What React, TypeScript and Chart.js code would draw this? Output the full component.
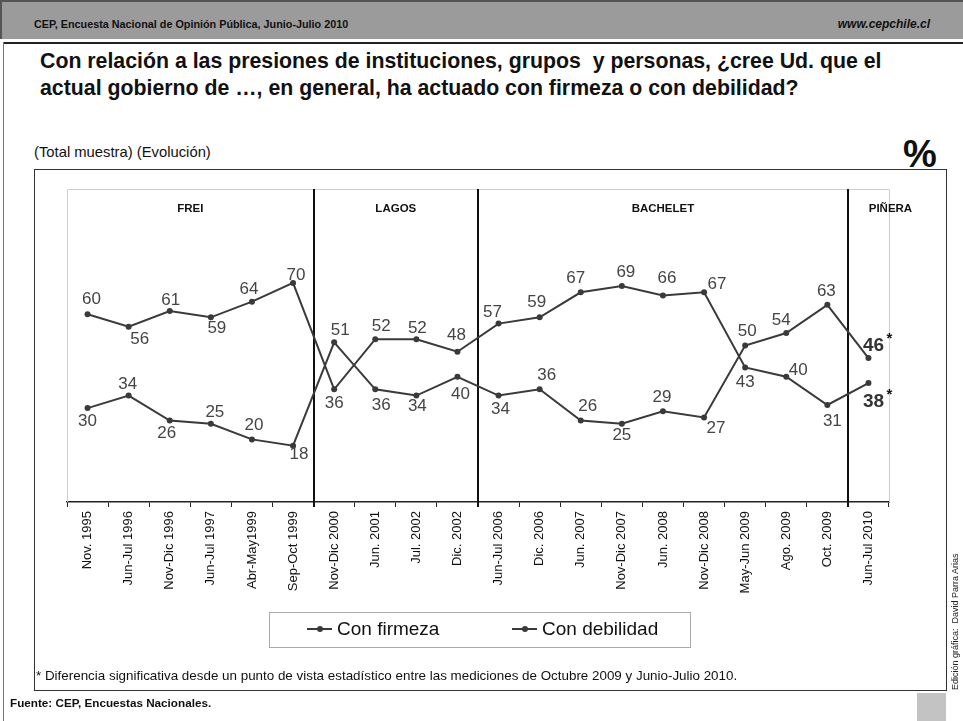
import React, { useEffect, useRef } from "react";
import { Chart, registerables } from "chart.js";

Chart.register(...registerables);

const categories = [
  "Nov. 1995", "Jun-Jul 1996", "Nov-Dic 1996", "Jun-Jul 1997", "Abr-May1999", "Sep-Oct 1999",
  "Nov-Dic 2000", "Jun. 2001", "Jul. 2002", "Dic. 2002",
  "Jun-Jul 2006", "Dic. 2006", "Jun. 2007", "Nov-Dic 2007", "Jun. 2008", "Nov-Dic 2008",
  "May-Jun 2009", "Ago. 2009", "Oct. 2009", "Jun-Jul 2010",
];
const conFirmeza = [30, 34, 26, 25, 20, 18, 51, 36, 34, 40, 34, 36, 26, 25, 29, 27, 50, 54, 63, 46];
const conDebilidad = [60, 56, 61, 59, 64, 70, 36, 52, 52, 48, 57, 59, 67, 69, 66, 67, 43, 40, 31, 38];
const significant = [false, false, false, false, false, false, false, false, false, false, false, false, false, false, false, false, false, false, false, true];
const periodNames = ["FREI", "LAGOS", "BACHELET", "PIÑERA"];
const periodStart = [0, 6, 10, 19];
const seriesNames = ["Con firmeza", "Con debilidad"];

// label placement (style only): [dx, dy] relative to each point
const firmezaLabelPos = [
  [0, 13], [-1, -11], [-3, 13], [4, -11], [2, -14], [6, 9], [6, -12], [6, 16], [1, 11], [3, 18],
  [2, 14], [7, -14], [7, -14], [0, 12], [-1, -14], [12, 11], [2, -14], [-5, -13], [-1, -13], [5, -12],
];
const debilidadLabelPos = [
  [4, -15], [11, 13], [1, -11], [6, 11], [-3, -12], [3, -8], [0, 14], [6, -13], [1, -11], [-1, -16],
  [-6, -11], [-3, -15], [-5, -14], [4, -14], [4, -17], [13, -8], [0, 15], [12, -6], [5, 16], [5, 19],
];
const periodLabelShift = [0, 0, 0, 22];

const FONT = "'Liberation Sans', Arial, Helvetica, sans-serif";
const LINE = "#3a3a3a";

const framePlugin = {
  id: "frame",
  beforeDatasetsDraw(chart: any) {
    const { ctx, chartArea } = chart;
    const x = chart.scales.x;
    const { left, right, top, bottom } = chartArea;
    ctx.save();
    ctx.strokeStyle = "#cfcfcf";
    ctx.lineWidth = 1;
    ctx.beginPath();
    ctx.moveTo(Math.round(left) + 0.5, bottom);
    ctx.lineTo(Math.round(left) + 0.5, Math.round(top) + 0.5);
    ctx.lineTo(Math.round(right) + 0.5, Math.round(top) + 0.5);
    ctx.lineTo(Math.round(right) + 0.5, bottom);
    ctx.stroke();
    const boundary = (i: number) => {
      if (i <= 0) return left;
      if (i >= categories.length) return right;
      return (x.getPixelForValue(i - 1) + x.getPixelForValue(i)) / 2;
    };
    ctx.strokeStyle = "#111";
    ctx.lineWidth = 2;
    for (let p = 1; p < periodStart.length; p++) {
      const bx = Math.round(boundary(periodStart[p]));
      ctx.beginPath();
      ctx.moveTo(bx, top);
      ctx.lineTo(bx, bottom + 5);
      ctx.stroke();
    }
    ctx.fillStyle = "#111";
    ctx.font = `bold 11.5px ${FONT}`;
    ctx.textAlign = "center";
    ctx.textBaseline = "middle";
    for (let p = 0; p < periodNames.length; p++) {
      const s = boundary(periodStart[p]);
      const e = boundary(p + 1 < periodStart.length ? periodStart[p + 1] : categories.length);
      ctx.fillText(periodNames[p], (s + e) / 2 + periodLabelShift[p], top + 20);
    }
    ctx.restore();
  },
};

const labelsPlugin = {
  id: "valueLabels",
  afterDatasetsDraw(chart: any) {
    const { ctx } = chart;
    const positions = [firmezaLabelPos, debilidadLabelPos];
    ctx.save();
    ctx.textAlign = "center";
    ctx.textBaseline = "middle";
    chart.data.datasets.forEach((ds: any, di: number) => {
      const meta = chart.getDatasetMeta(di);
      meta.data.forEach((pt: any, i: number) => {
        const [dx, dy] = positions[di][i];
        const tx = pt.x + dx;
        const ty = pt.y + dy;
        if (significant[i]) {
          ctx.fillStyle = "#333";
          ctx.font = `bold 19px ${FONT}`;
          ctx.fillText(String(ds.data[i]), tx, ty);
          ctx.font = `bold 15px ${FONT}`;
          ctx.fillStyle = "#111";
          ctx.fillText("*", tx + 16, ty - 7);
        } else {
          ctx.fillStyle = "#454545";
          ctx.font = `17px ${FONT}`;
          ctx.fillText(String(ds.data[i]), tx, ty);
        }
      });
    });
    ctx.restore();
  },
};

function LegendIcon() {
  return (
    <span style={{ position: "relative", display: "inline-block", width: 25, height: 10, marginRight: 5 }}>
      <span style={{ position: "absolute", left: 0, top: 4, width: 25, height: 2, background: LINE }} />
      <span style={{ position: "absolute", left: 10, top: 2, width: 6, height: 6, borderRadius: 3, background: LINE }} />
    </span>
  );
}

export default function App() {
  const canvasRef = useRef<HTMLCanvasElement | null>(null);

  useEffect(() => {
    const canvas = canvasRef.current;
    if (!canvas) return;
    const mk = (label: string, data: number[]) => ({
      label,
      data,
      borderColor: LINE,
      backgroundColor: LINE,
      borderWidth: 2,
      pointRadius: 3,
      pointBorderWidth: 0,
      pointBackgroundColor: LINE,
      tension: 0,
    });
    const chart = new Chart(canvas, {
      type: "line",
      data: {
        labels: categories,
        datasets: [mk(seriesNames[0], conFirmeza), mk(seriesNames[1], conDebilidad)],
      },
      options: {
        responsive: false,
        animation: false,
        devicePixelRatio: 1,
        layout: { padding: { left: 67, right: 963 - 889, top: 189, bottom: 0 } },
        plugins: { legend: { display: false }, tooltip: { enabled: false } },
        scales: {
          x: {
            offset: true,
            grid: { offset: true, drawOnChartArea: false, drawTicks: true, tickLength: 5, color: "#222", lineWidth: 1 },
            border: { color: "#222", width: 1.5 },
            ticks: {
              autoSkip: false,
              maxRotation: 90,
              minRotation: 90,
              padding: 4,
              color: "#111",
              font: { family: FONT, size: 13 },
            },
            afterFit: (s: any) => {
              s.height = 721 - 502;
            },
          },
          y: { display: false, min: 0, max: 100 },
        },
      } as any,
      plugins: [framePlugin, labelsPlugin],
    });
    return () => chart.destroy();
  }, []);

  const abs = (o: React.CSSProperties): React.CSSProperties => ({ position: "absolute", ...o });

  return (
    <div style={{ position: "fixed", left: 0, top: 0, width: 963, height: 721, background: "#fff", overflow: "hidden", fontFamily: FONT, color: "#111" }}>
      {/* header band */}
      <div style={abs({ left: 0, top: 0, width: 963, height: 39, background: "#9b9b9b", borderTop: "2px solid #555", borderLeft: "2px solid #555", boxSizing: "border-box" })} />
      <div style={abs({ left: 34, top: 18, fontSize: 10.8, fontWeight: "bold", whiteSpace: "nowrap" })}>
        CEP, Encuesta Nacional de Opinión Pública, Junio-Julio 2010
      </div>
      <div style={abs({ right: 33, top: 17, fontSize: 12, fontWeight: "bold", fontStyle: "italic", whiteSpace: "nowrap" })}>
        www.cepchile.cl
      </div>
      <div style={abs({ left: 3, top: 42, width: 960, height: 2, background: "#222" })} />
      <div style={abs({ left: 3, top: 42, width: 1, height: 679, background: "#777" })} />

      {/* title */}
      <div style={abs({ left: 40, top: 48, fontSize: 21.3, lineHeight: "27px", fontWeight: "bold", whiteSpace: "nowrap" })}>
        Con relación a las presiones de instituciones, grupos&nbsp; y personas, ¿cree Ud. que el
        <br />
        actual gobierno de …, en general, ha actuado con firmeza o con debilidad?
      </div>

      <div style={abs({ left: 34, top: 144, fontSize: 14.8, whiteSpace: "nowrap" })}>(Total muestra) (Evolución)</div>
      <div style={abs({ left: 903, top: 133, fontSize: 38, fontWeight: "bold", lineHeight: "42px" })}>%</div>

      {/* outer box */}
      <div style={abs({ left: 34, top: 169, width: 913, height: 522, border: "1px solid #333", boxSizing: "border-box" })} />

      <canvas ref={canvasRef} width={963} height={721} style={abs({ left: 0, top: 0, width: 963, height: 721 })} />

      {/* legend */}
      <div style={abs({ left: 269, top: 612, width: 422, height: 36, border: "1px solid #aaa", boxSizing: "border-box" })} />
      <div style={abs({ left: 307, top: 617, fontSize: 19, lineHeight: "24px", whiteSpace: "nowrap", display: "flex", alignItems: "center" })}>
        <LegendIcon />
        {seriesNames[0]}
      </div>
      <div style={abs({ left: 512, top: 617, fontSize: 19, lineHeight: "24px", whiteSpace: "nowrap", display: "flex", alignItems: "center" })}>
        <LegendIcon />
        {seriesNames[1]}
      </div>

      <div style={abs({ left: 36, top: 668, fontSize: 13.4, whiteSpace: "nowrap" })}>
        * Diferencia significativa desde un punto de vista estadístico entre las mediciones de Octubre 2009 y Junio-Julio 2010.
      </div>
      <div style={abs({ left: 10, top: 696, fontSize: 11.7, fontWeight: "bold", whiteSpace: "nowrap" })}>
        Fuente: CEP, Encuestas Nacionales.
      </div>
      <div style={abs({ left: 917, top: 693, width: 29, height: 28, background: "#c3c3c3" })} />
      <div
        style={abs({
          left: 950,
          top: 690,
          fontSize: 9,
          whiteSpace: "nowrap",
          transform: "rotate(-90deg)",
          transformOrigin: "0 0",
          lineHeight: "11px",
          color: "#222",
        })}
      >
        Edición gráfica:&nbsp; David Parra Arias
      </div>
    </div>
  );
}
